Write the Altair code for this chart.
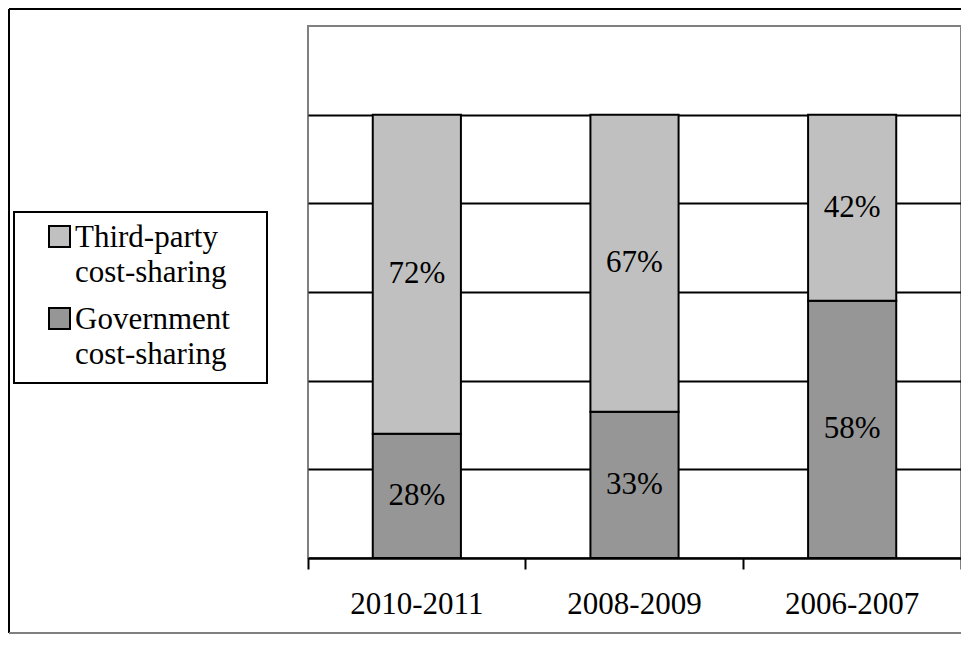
import altair as alt
import pandas as pd

periods = ["2010-2011", "2008-2009", "2006-2007"]
series = ["Third-party cost-sharing", "Government cost-sharing"]
third_party = [72, 67, 42]
government = [28, 33, 58]
colors = ["#C0C0C0", "#969696"]
grid_values = [0, 0.2, 0.4, 0.6, 0.8, 1.0]

rows = []
for i, p in enumerate(periods):
    rows.append({"period": p, "series": series[1], "value": government[i] / 100,
                 "label": f"{government[i]}%", "ord": 0})
    rows.append({"period": p, "series": series[0], "value": third_party[i] / 100,
                 "label": f"{third_party[i]}%", "ord": 1})
df = pd.DataFrame(rows)

W, H = 653, 532
FONT = "Liberation Serif"
FS = 31

base = alt.Chart(df).transform_stack(
    stack="value", groupby=["period"], sort=[alt.SortField("ord", order="ascending")],
    as_=["y0", "y1"]
).transform_calculate(mid="(datum.y0 + datum.y1) / 2")

xenc = alt.X(
    "period:N", sort=periods,
    scale=alt.Scale(paddingInner=0, paddingOuter=0),
    axis=alt.Axis(title=None, bandPosition=1, tickExtra=True, ticks=True, tickSize=11,
                  tickColor="black", tickWidth=2, domainColor="black", domainWidth=2,
                  labelFont=FONT, labelFontSize=FS, labelColor="black", labelAngle=0,
                  labelPadding=20, labelBaseline="top", grid=False),
)
yscale = alt.Scale(domain=[0, 1.2], nice=False, zero=True)

bars = base.mark_bar(stroke="black", strokeWidth=2, width=alt.RelativeBandSize(0.405)).encode(
    x=xenc,
    y=alt.Y("y1:Q", scale=yscale,
            axis=alt.Axis(title=None, labels=False, ticks=False, domain=False, grid=True,
                          gridColor="black", gridWidth=2, values=grid_values)),
    y2="y0:Q",
    color=alt.Color(
        "series:N",
        scale=alt.Scale(domain=series, range=colors),
        legend=alt.Legend(
            orient="none", legendX=-264, legendY=181, title=None, padding=0,
            symbolType="M-1,0.333H1V2.333H-1Z", symbolSize=441, symbolStrokeColor="black",
            symbolStrokeWidth=2, symbolOpacity=1,
            labelFont=FONT, labelFontSize=FS, labelColor="black", labelOffset=0,
            labelExpr="split(datum.label, ' ')", labelBaseline="top", rowPadding=1,
            labelLimit=400,
        ),
    ),
    order=alt.Order("ord:Q"),
)

texts = base.mark_text(font=FONT, fontSize=FS, color="black", baseline="middle").encode(
    x=alt.X("period:N", sort=periods),
    y=alt.Y("mid:Q", scale=yscale),
    text="label:N",
)

frame_df = pd.DataFrame({"k": [0]})
FL, FR, FT, FB = -299, W + 30, -17, H + 75
frame_top = alt.Chart(frame_df).mark_rule(color="black", strokeWidth=2).encode(
    x=alt.value(FL), x2=alt.value(FR), y=alt.value(FT))
frame_left = alt.Chart(frame_df).mark_rule(color="black", strokeWidth=2).encode(
    x=alt.value(FL), y=alt.value(FT), y2=alt.value(FB))
frame_bottom = alt.Chart(frame_df).mark_rule(color="#808080", strokeWidth=2).encode(
    x=alt.value(FL), x2=alt.value(FR), y=alt.value(FB))
legend_box = alt.Chart(frame_df).mark_rect(filled=False, stroke="black", strokeWidth=2).encode(
    x=alt.value(-294), x2=alt.value(-41), y=alt.value(186), y2=alt.value(357)
)

chart = alt.layer(frame_top, frame_left, frame_bottom, legend_box, bars, texts).properties(
    width=W, height=H,
    autosize=alt.AutoSizeParams(type="none"),
    padding={"left": 300, "top": 18, "right": 0, "bottom": 77},
).configure(
    style={"guide-label": {"lineHeight": 35}}
).configure_view(stroke="#808080", strokeWidth=2)

chart.save("out.html", embed_options={"renderer": "svg", "actions": False})
